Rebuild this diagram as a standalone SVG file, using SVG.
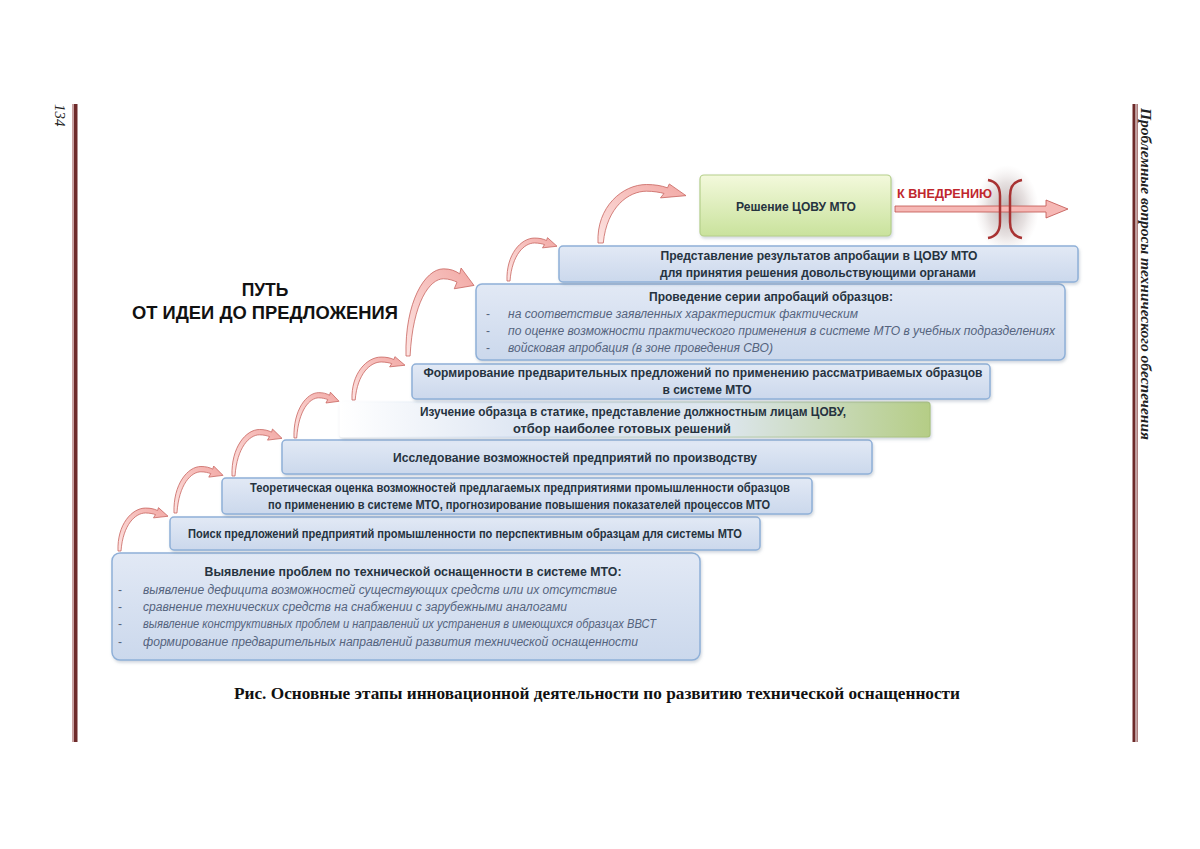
<svg xmlns="http://www.w3.org/2000/svg" width="1200" height="849" viewBox="0 0 1200 849">
<defs>
<linearGradient id="gBox" x1="0" y1="0" x2="0" y2="1"><stop offset="0" stop-color="#e2e9f5"/><stop offset="1" stop-color="#cbd8ec"/></linearGradient>
<linearGradient id="gStudy" x1="0" y1="0" x2="1" y2="0"><stop offset="0" stop-color="#ffffff"/><stop offset="0.3" stop-color="#dfe7f3"/><stop offset="0.65" stop-color="#dde6ee"/><stop offset="1" stop-color="#b5cd86"/></linearGradient>
<linearGradient id="gStudyS" x1="0" y1="0" x2="1" y2="0"><stop offset="0" stop-color="#ffffff"/><stop offset="0.3" stop-color="#c9d8ec"/><stop offset="1" stop-color="#a9c27a"/></linearGradient>
<linearGradient id="gDecision" x1="0" y1="0" x2="0" y2="1"><stop offset="0" stop-color="#f3f9dc"/><stop offset="1" stop-color="#c9e29c"/></linearGradient>
<linearGradient id="gArrow" x1="0" y1="1" x2="1" y2="0"><stop offset="0" stop-color="#fde4e2"/><stop offset="1" stop-color="#f2a8a4"/></linearGradient>
<radialGradient id="gHalo"><stop offset="0" stop-color="#9a8888" stop-opacity="0.7"/><stop offset="0.6" stop-color="#b8a8a8" stop-opacity="0.35"/><stop offset="1" stop-color="#d8cccc" stop-opacity="0"/></radialGradient>
<filter id="sh" x="-5%" y="-10%" width="110%" height="130%"><feDropShadow dx="1" dy="2" stdDeviation="1.5" flood-color="#7a8aa0" flood-opacity="0.35"/></filter>
<path id="arc" d="M 0,100 C -2,35 28,-5 55,-5 C 65,-5 72,-3 79,1 L 81,-6 L 100,15 L 71,19 L 75,11 C 70,9 63,7 55,7 C 35,7 10,35 6,100 Z" fill="url(#gArrow)" stroke="#c86460" stroke-width="0.8" vector-effect="non-scaling-stroke"/>
</defs>
<style>
.box{fill:url(#gBox);stroke:#8fb0d8;stroke-width:1.5;filter:url(#sh)}
.t{font-family:"Liberation Sans",Arial,sans-serif;font-weight:bold;font-size:12px;fill:#26333f;text-anchor:middle}
.b{font-family:"Liberation Sans",Arial,sans-serif;font-style:italic;font-size:12px;fill:#55647e}
.d{font-family:"Liberation Sans",Arial,sans-serif;font-size:12px;fill:#55647e}
</style>
<rect width="1200" height="849" fill="#ffffff"/>

<g id="page">
<rect x="72" y="104" width="2" height="638" fill="#c9a3a3"/>
<rect x="74" y="104" width="3.5" height="638" fill="#6e2a2a"/>
<rect x="1132.5" y="104" width="3" height="638" fill="#6e2a2a"/>
<rect x="1136.5" y="104" width="1.2" height="638" fill="#8a4a4a"/>
<text transform="translate(55,104) rotate(90)" font-family="'Liberation Serif',serif" font-style="italic" font-size="15" fill="#222">134</text>
<text transform="translate(1141,108) rotate(90)" font-family="'Liberation Serif',serif" font-style="italic" font-weight="bold" font-size="14" fill="#222" textLength="332" lengthAdjust="spacingAndGlyphs">Проблемные вопросы технического обеспечения</text>
<text x="597" y="699" font-family="'Liberation Serif',serif" font-weight="bold" font-size="16" fill="#111" text-anchor="middle" textLength="726" lengthAdjust="spacingAndGlyphs">Рис. Основные этапы инновационной деятельности по развитию технической оснащенности</text>
</g>

<g id="title">
<text x="265" y="296" font-family="'Liberation Sans',Arial,sans-serif" font-weight="bold" font-size="17.5" fill="#111" text-anchor="middle">ПУТЬ</text>
<text x="265" y="319" font-family="'Liberation Sans',Arial,sans-serif" font-weight="bold" font-size="17.5" fill="#111" text-anchor="middle" textLength="266" lengthAdjust="spacingAndGlyphs">ОТ ИДЕИ ДО ПРЕДЛОЖЕНИЯ</text>
</g>

<g id="connectors">
<use href="#arc" transform="translate(118,510.1) scale(0.50,0.409)"/>
<use href="#arc" transform="translate(174,468.7) scale(0.49,0.443)"/>
<use href="#arc" transform="translate(232,431.7) scale(0.50,0.443)"/>
<use href="#arc" transform="translate(294,394.8) scale(0.45,0.432)"/>
<use href="#arc" transform="translate(352,359.1) scale(0.53,0.409)"/>
<use href="#arc" transform="translate(406,273) scale(0.68,0.83)"/>
<use href="#arc" transform="translate(507,240.1) scale(0.50,0.409)"/>
<use href="#arc" transform="translate(598,187.3) scale(0.88,0.557)"/>
<g id="to-implementation">
<ellipse cx="1007" cy="209" rx="32" ry="44" fill="url(#gHalo)"/>
<path d="M 895,206 L 1046,206 L 1046,200 L 1068,209 L 1046,218 L 1046,212 L 895,212 Z" fill="#f6b8b5" stroke="#c0504d" stroke-width="0.8"/>
<path d="M 988,180 Q 1000,182 1000,196 L 1000,222 Q 1000,236 988,238" fill="none" stroke="#a83232" stroke-width="2.5"/>
<path d="M 1022,180 Q 1010,182 1010,196 L 1010,222 Q 1010,236 1022,238" fill="none" stroke="#a83232" stroke-width="2.5"/>
<text x="897" y="198" font-family="'Liberation Sans',Arial,sans-serif" font-weight="bold" font-size="13" fill="#c0272d" textLength="95" lengthAdjust="spacingAndGlyphs">К ВНЕДРЕНИЮ</text>
</g>
</g>

<g id="n1">
<rect class="box" x="112" y="553" width="588" height="107" rx="8"/>
<text class="t" x="413" y="576" textLength="417" lengthAdjust="spacingAndGlyphs">Выявление проблем по технической оснащенности в системе МТО:</text>
<text class="d" x="118" y="594">-</text><text class="b" x="143" y="594" textLength="474" lengthAdjust="spacingAndGlyphs">выявление дефицита возможностей существующих средств или их отсутствие</text>
<text class="d" x="118" y="611">-</text><text class="b" x="143" y="611" textLength="424" lengthAdjust="spacingAndGlyphs">сравнение технических средств на снабжении с зарубежными аналогами</text>
<text class="d" x="118" y="628">-</text><text class="b" x="143" y="628" textLength="513" lengthAdjust="spacingAndGlyphs">выявление конструктивных проблем и направлений их устранения в имеющихся образцах ВВСТ</text>
<text class="d" x="118" y="646">-</text><text class="b" x="143" y="646" textLength="495" lengthAdjust="spacingAndGlyphs">формирование предварительных направлений развития технической оснащенности</text>
</g>

<g id="n2">
<rect class="box" x="170" y="517" width="590" height="33" rx="4"/>
<text class="t" x="465" y="538" textLength="554" lengthAdjust="spacingAndGlyphs">Поиск предложений предприятий промышленности по перспективным образцам для системы МТО</text>
</g>

<g id="n3">
<rect class="box" x="222" y="478" width="590" height="36" rx="4"/>
<text class="t" x="520" y="492" textLength="540" lengthAdjust="spacingAndGlyphs">Теоретическая оценка возможностей предлагаемых предприятиями промышленности  образцов</text>
<text class="t" x="519" y="509" textLength="502" lengthAdjust="spacingAndGlyphs">по применению в системе МТО, прогнозирование повышения показателей процессов МТО</text>
</g>

<g id="n4">
<rect class="box" x="282" y="440" width="590" height="34" rx="4"/>
<text class="t" x="575" y="462" textLength="364" lengthAdjust="spacingAndGlyphs">Исследование возможностей предприятий по производству</text>
</g>

<g id="n5">
<rect x="340" y="402" width="590" height="35" rx="3" fill="url(#gStudy)" stroke="url(#gStudyS)" stroke-width="1.2" filter="url(#sh)"/>
<text class="t" x="633" y="416" textLength="426" lengthAdjust="spacingAndGlyphs">Изучение образца в статике, представление должностным лицам ЦОВУ,</text>
<text class="t" x="622" y="433" textLength="218" lengthAdjust="spacingAndGlyphs">отбор наиболее готовых решений</text>
</g>

<g id="n6">
<rect class="box" x="412" y="364" width="578" height="35" rx="4"/>
<text class="t" x="703" y="377" textLength="559" lengthAdjust="spacingAndGlyphs">Формирование предварительных предложений по применению рассматриваемых образцов</text>
<text class="t" x="707" y="394">в системе МТО</text>
</g>

<g id="n7">
<rect class="box" x="476" y="284" width="589" height="76" rx="6"/>
<text class="t" x="771" y="301" textLength="244" lengthAdjust="spacingAndGlyphs">Проведение серии апробаций образцов:</text>
<text class="d" x="486" y="318">-</text><text class="b" x="508" y="318" textLength="350" lengthAdjust="spacingAndGlyphs">на соответствие заявленных характеристик фактическим</text>
<text class="d" x="486" y="335">-</text><text class="b" x="508" y="335" textLength="547" lengthAdjust="spacingAndGlyphs">по оценке возможности практического применения в системе МТО в учебных подразделениях</text>
<text class="d" x="486" y="352">-</text><text class="b" x="508" y="352" textLength="265" lengthAdjust="spacingAndGlyphs">войсковая апробация (в зоне проведения СВО)</text>
</g>

<g id="n8">
<rect class="box" x="559" y="246" width="519" height="36" rx="4"/>
<text class="t" x="819" y="260" textLength="317" lengthAdjust="spacingAndGlyphs">Представление результатов апробации в ЦОВУ МТО</text>
<text class="t" x="818" y="277" textLength="316" lengthAdjust="spacingAndGlyphs">для принятия решения довольствующими органами</text>
</g>

<g id="n9">
<rect x="700" y="175" width="191" height="61" rx="4" fill="url(#gDecision)" stroke="#b5cf8a" stroke-width="1.2" filter="url(#sh)"/>
<text class="t" x="796" y="211" font-size="13" textLength="120" lengthAdjust="spacingAndGlyphs">Решение ЦОВУ МТО</text>
</g>
</svg>
